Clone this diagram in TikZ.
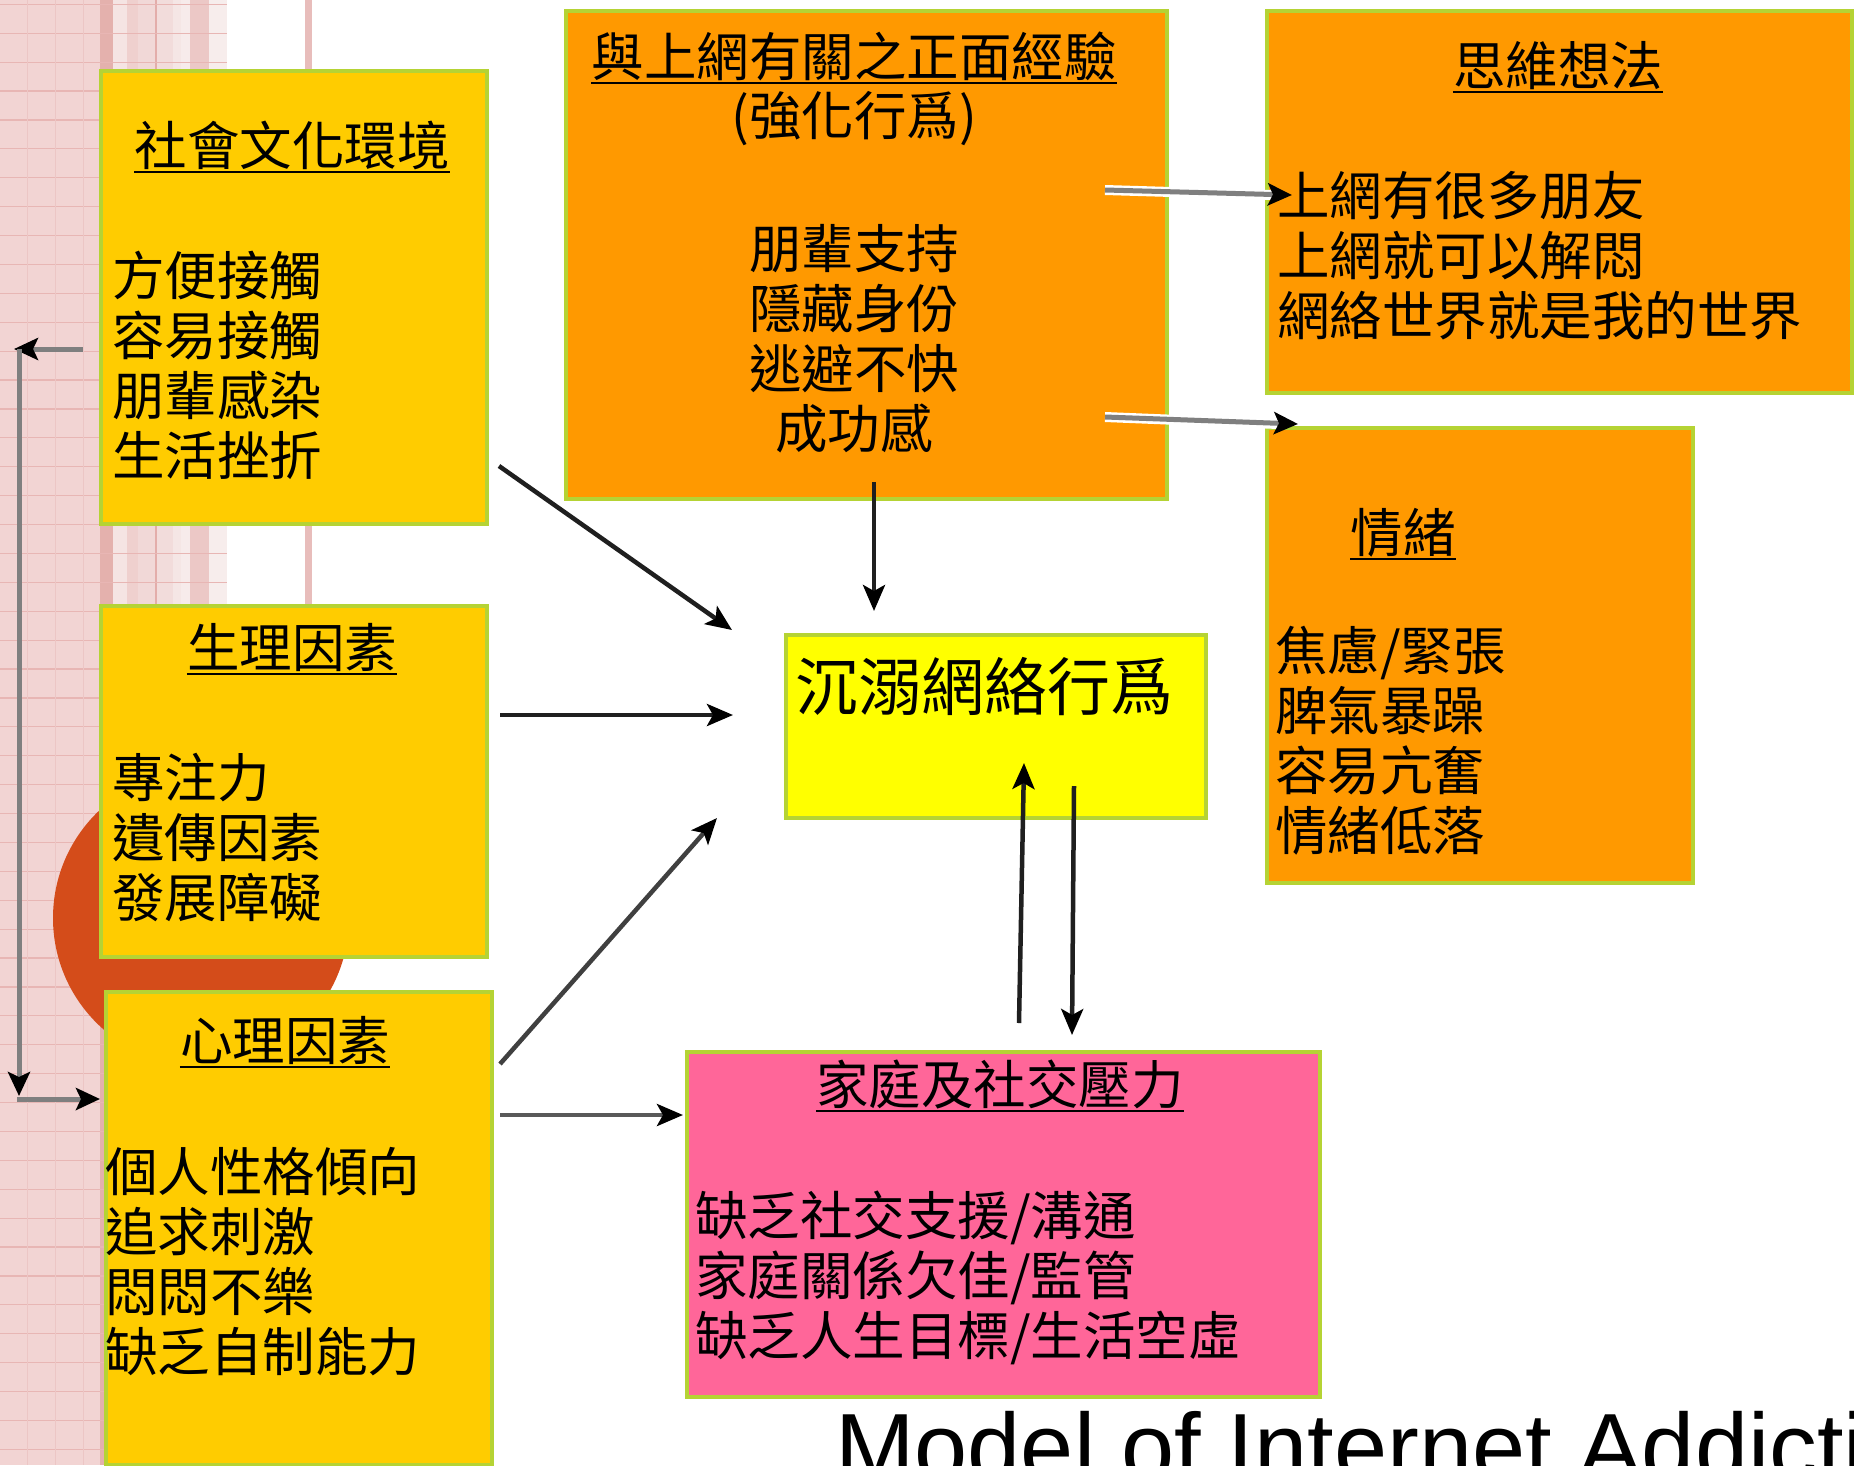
\documentclass[tikz,border=0pt]{standalone}
\usepackage{fontspec}
\setmainfont{Liberation Sans}
\newfontfamily\cjk{Noto Sans CJK TC}
\usetikzlibrary{arrows.meta}

\definecolor{slidepink}{HTML}{F2D4D3}
\definecolor{gridline}{HTML}{E8B6B4}
\definecolor{gridfaint}{HTML}{ECC6C5}
\definecolor{stripeA}{HTML}{E4B1AD}
\definecolor{stripeB}{HTML}{F5E4E3}
\definecolor{stripeC}{HTML}{EFD0CE}
\definecolor{stripeD}{HTML}{F1D8D7}
\definecolor{stripeE}{HTML}{E3ADAA}
\definecolor{stripeF}{HTML}{F2DCDB}
\definecolor{stripeG}{HTML}{F5E6E5}
\definecolor{stripeH}{HTML}{F7EBEB}
\definecolor{stripeI}{HTML}{ECC8C6}
\definecolor{stripeJ}{HTML}{F7EDEC}
\definecolor{stripeK}{HTML}{E8BDBB}
\definecolor{boxyellow}{HTML}{FFCC00}
\definecolor{boxorange}{HTML}{FF9900}
\definecolor{boxlemon}{HTML}{FFFF00}
\definecolor{boxpink}{HTML}{FF6699}
\definecolor{boxedge}{HTML}{B5D334}
\definecolor{discred}{HTML}{D44C1A}
\definecolor{loopgray}{HTML}{7F7F7F}

\tikzset{
  panel/.style={draw=boxedge, line width=3.5pt, anchor=north west, inner sep=0pt},
  zh/.style={inner sep=0pt, font=\cjk\fontsize{52.5}{60}\selectfont},
  heading/.style={zh, anchor=base},
  itemlist/.style={zh, anchor=base west, align=left, text width=640pt},
  centrelist/.style={zh, anchor=base, align=center, text width=500pt},
  headrule/.style={line width=2.5pt, black},
  flow/.style={line width=4.5pt, draw=black!88,
    -{Stealth[length=26pt,width=22pt,inset=6pt,color=black]}},
  sideflow/.style={line width=5pt, draw=loopgray,
    -{Stealth[length=24pt,width=22pt,inset=5pt,color=black]}},
  halo/.style={line width=10pt, draw=white},
}

\begin{document}
\begin{tikzpicture}[x=1pt,y=-1pt]
\clip (0,0) rectangle (1854,1465);
\fill[white] (0,0) rectangle (1854,1465);

% striped slide backdrop on the left
\fill[slidepink] (0,0) rectangle (100,1465);
\fill[stripeA] (100,0) rectangle (113,1465);
\fill[stripeB] (113,0) rectangle (127,1465);
\fill[stripeC] (127,0) rectangle (138,1465);
\fill[stripeD] (138,0) rectangle (155,1465);
\fill[stripeE] (155,0) rectangle (157,1465);
\fill[stripeF] (157,0) rectangle (173,1465);
\fill[stripeG] (173,0) rectangle (181,1465);
\fill[stripeH] (181,0) rectangle (190,1465);
\fill[stripeI] (190,0) rectangle (209,1465);
\fill[stripeJ] (209,0) rectangle (227,1465);
\fill[stripeK] (305,0) rectangle (312,1465);
\foreach \k in {0,...,51}
  \draw[gridline, line width=1.2pt] (0,4.3+28.9*\k) -- (227,4.3+28.9*\k);
\foreach \gx in {27,55,83}
  \draw[gridfaint, line width=0.8pt] (\gx,0) -- (\gx,1465);

% decorative disc
\fill[discred] (201,918) circle[radius=148];

% boxes
\node[panel, fill=boxyellow, minimum width=386pt, minimum height=453pt] (soc) at (99,69) {};
\node[panel, fill=boxyellow, minimum width=386pt, minimum height=351pt] (bio) at (99,604) {};
\node[panel, fill=boxyellow, minimum width=386pt, minimum height=473pt] (psy) at (104,990) {};
\node[panel, fill=boxorange, minimum width=601pt, minimum height=488pt] (pos) at (564,9) {};
\node[panel, fill=boxorange, minimum width=585pt, minimum height=382pt] (thk) at (1265,9) {};
\node[panel, fill=boxorange, minimum width=426pt, minimum height=455pt] (emo) at (1265,426) {};
\node[panel, fill=boxlemon, minimum width=420pt, minimum height=183pt] (net) at (784,633) {};
\node[panel, fill=boxpink, minimum width=633pt, minimum height=345pt] (fam) at (685,1050) {};

% box texts
\node[heading] (socT) at (292,165) {社會文化環境};
\node[itemlist] (socL) at (112,295) {方便接觸\\容易接觸\\朋輩感染\\生活挫折};

\node[heading] (bioT) at (292,667) {生理因素};
\node[itemlist] (bioL) at (112,797) {專注力\\遺傳因素\\發展障礙};

\node[heading] (psyT) at (285,1060) {心理因素};
\node[itemlist] (psyL) at (105,1191) {個人性格傾向\\追求刺激\\悶悶不樂\\缺乏自制能力};

\node[heading] (posT) at (854,76) {與上網有關之正面經驗};
\node[heading] (posS) at (854,135) {(強化行爲)};
\node[centrelist] (posL) at (854,268) {朋輩支持\\隱藏身份\\逃避不快\\成功感};

\node[heading] (thkT) at (1558,85) {思維想法};
\node[itemlist] (thkL) at (1277,215) {上網有很多朋友\\上網就可以解悶\\網絡世界就是我的世界};

\node[heading] (emoT) at (1403,552) {情緒};
\node[itemlist] (emoL) at (1275,670) {焦慮/緊張\\脾氣暴躁\\容易亢奮\\情緒低落};

\node[inner sep=0pt, anchor=base west, font=\cjk\fontsize{63}{70}\selectfont] (netT) at (795,710) {沉溺網絡行爲};

\node[heading] (famT) at (1000,1104) {家庭及社交壓力};
\node[itemlist] (famL) at (695,1235) {缺乏社交支援/溝通\\家庭關係欠佳/監管\\缺乏人生目標/生活空虛};

% heading underlines
\foreach \h in {socT,bioT,psyT,posT,thkT,emoT,famT}
  \draw[headrule] ([yshift=-7pt]\h.base west) -- ([yshift=-7pt]\h.base east);

% title, running off the lower edge of the slide
\node[inner sep=0pt, anchor=base west, font=\fontsize{95.5}{100}\selectfont] (ttl) at (835,1480) {Model of Internet Addicti};

% connector end points
\coordinate (socOut) at (499,466);
\coordinate (netInA) at (732,630);
\coordinate (bioOut) at (500,715);
\coordinate (netInB) at (733,715);
\coordinate (psyOutA) at (500,1064);
\coordinate (netInC) at (717,818);
\coordinate (psyOutB) at (500,1115);
\coordinate (famIn) at (683,1115);
\coordinate (posOut) at (874,482);
\coordinate (netInD) at (874,611);
\coordinate (famOut) at (1019,1023);
\coordinate (netInE) at (1024,763);
\coordinate (netOut) at (1074,786);
\coordinate (famInB) at (1072,1035);
\coordinate (posOutA) at (1105,190);
\coordinate (thkIn) at (1292,195);
\coordinate (posOutB) at (1105,417);
\coordinate (emoIn) at (1298,424);
\coordinate (loopStart) at (83,349);
\coordinate (loopTop) at (14,349);
\coordinate (loopBot) at (19,1096);
\coordinate (loopTurn) at (17,1099);
\coordinate (loopEnd) at (100,1099);

% feedback loop on the left
\draw[sideflow] (loopStart) -- (loopTop);
\draw[sideflow] (19,349) -- (loopBot);
\draw[sideflow] (loopTurn) -- (loopEnd);

% influences on the addictive behaviour
\draw[flow] (socOut) -- (netInA);
\draw[flow] (bioOut) -- (netInB);
\draw[flow, draw=black!75] (psyOutA) -- (netInC);
\draw[flow, draw=black!65] (psyOutB) -- (famIn);
\draw[flow] (posOut) -- (netInD);
\draw[flow] (famOut) -- (netInE);
\draw[flow] (netOut) -- (famInB);

% positive experience feeding thoughts and emotions
\draw[halo] (posOutA) -- ([xshift=-20pt]thkIn);
\draw[sideflow] (posOutA) -- (thkIn);
\draw[halo] (posOutB) -- ([xshift=-20pt]emoIn);
\draw[sideflow] (posOutB) -- (emoIn);
\end{tikzpicture}
\end{document}
